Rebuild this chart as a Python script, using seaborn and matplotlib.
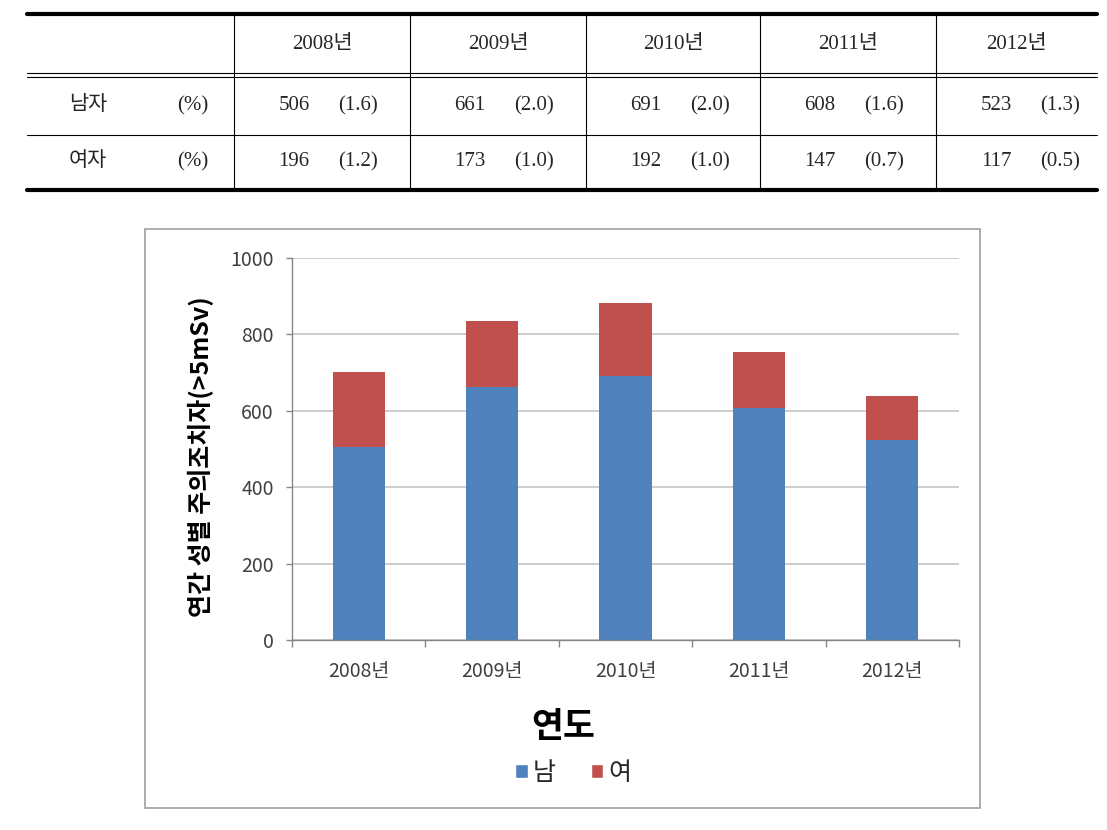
import matplotlib.pyplot as plt
import numpy as np
import pandas as pd
import seaborn as sns
from matplotlib.lines import Line2D
from matplotlib.patches import Patch, Rectangle

# data
years = ["2008년", "2009년", "2010년", "2011년", "2012년"]
male = [506, 661, 691, 608, 523]
female = [196, 173, 192, 147, 117]
male_pct = [1.6, 2.0, 2.0, 1.6, 1.3]
female_pct = [1.2, 1.0, 1.0, 0.7, 0.5]
row_labels = ["남자", "여자"]
legend_labels = ["남", "여"]
y_ticks = [0, 200, 400, 600, 800, 1000]

BLUE = "#4F81BD"
RED = "#C0504D"
GRAY = "#868686"
W, H = 1107, 830

sns.set_theme(style="white")
plt.rcParams["font.family"] = ["Noto Sans CJK KR", "DejaVu Sans"]
SERIF = ["Liberation Serif", "Noto Sans CJK KR"]
TSIZE = 15


def fx(x):
    return x / W


def fy(y):
    return 1 - y / H


fig = plt.figure(figsize=(W / 100, H / 100), dpi=100)

# ---- table on top ----
col_edges = [234, 410, 586, 760, 936, 1097]


def hline(y, lw, x0=27, x1=1097):
    fig.add_artist(Line2D([fx(x0), fx(x1)], [fy(y), fy(y)], color="black", lw=lw))


hline(14, 3.0)
hline(73.5, 0.8)
hline(77, 0.8)
hline(135, 0.8)
hline(190.5, 3.0)
for x in col_edges[:-1]:
    fig.add_artist(Line2D([fx(x), fx(x)], [fy(15), fy(189)], color="black", lw=0.8))

for i, yr in enumerate(years):
    fig.text(fx((col_edges[i] + col_edges[i + 1]) / 2), fy(45), yr,
             ha="center", va="center", family=SERIF, size=TSIZE)

for r, (label, vals, pcts) in enumerate(zip(row_labels, [male, female], [male_pct, female_pct])):
    y = [106, 162][r]
    fig.text(fx(88), fy(y), label, ha="center", va="center", family=SERIF, size=TSIZE)
    fig.text(fx(193), fy(y), "(%)", ha="center", va="center", family=SERIF, size=TSIZE)
    for i, (v, p) in enumerate(zip(vals, pcts)):
        fig.text(fx(col_edges[i] + 60), fy(y), str(v), ha="center", va="center",
                 family=SERIF, size=TSIZE)
        fig.text(fx(col_edges[i] + 124), fy(y), f"({p:.1f})", ha="center", va="center",
                 family=SERIF, size=TSIZE)

# ---- chart box ----
fig.add_artist(Rectangle((fx(145), fy(808)), fx(980) - fx(145), fy(229) - fy(808),
                         transform=fig.transFigure, fill=False, edgecolor="#a0a0a0", lw=1.2))

# ---- stacked bar chart ----
ax = fig.add_axes([fx(292), fy(640), fx(959) - fx(292), fy(258) - fy(640)])
df = pd.DataFrame({"year": years, "male": male, "female": female})
df["total"] = df["male"] + df["female"]

sns.barplot(data=df, x="year", y="total", color=RED, width=0.39, saturation=1,
            linewidth=0, ax=ax)
sns.barplot(data=df, x="year", y="male", color=BLUE, width=0.39, saturation=1,
            linewidth=0, ax=ax)

ax.set_xlim(-0.5, 4.5)
ax.set_ylim(0, 1000)
ax.set_yticks(y_ticks)
ax.grid(axis="y", color="#c0c0c0", lw=1.1)
ax.grid(axis="x", visible=False)
ax.set_axisbelow(True)
for s in ["top", "right"]:
    ax.spines[s].set_visible(False)
for s in ["left", "bottom"]:
    ax.spines[s].set_color(GRAY)
    ax.spines[s].set_linewidth(1.0)

ax.tick_params(axis="y", left=True, length=4, width=1, color=GRAY, direction="out",
               pad=9, labelsize=14, labelcolor="#404040")
ax.set_xticks(np.arange(-0.5, 5, 1), minor=True)
ax.tick_params(axis="x", which="major", bottom=False, length=0, pad=15,
               labelsize=14, labelcolor="#404040")
ax.tick_params(axis="x", which="minor", bottom=True, length=5, width=1, color=GRAY,
               direction="out")

ax.set_xlabel("")
ax.set_ylabel("연간 성별 주의조치자(>5mSv)", fontsize=18, fontweight="bold", color="black")
ax.yaxis.label.set_va("center")
ax.yaxis.set_label_coords((201 - 292) / 667, 0.48)

fig.text(fx(563), fy(727), "연도", ha="center", va="center", size=25,
         weight="bold", color="black")

handles = [Patch(facecolor=BLUE), Patch(facecolor=RED)]
fig.legend(handles, legend_labels, loc="center", bbox_to_anchor=(fx(573), fy(773)),
           ncol=2, frameon=False, fontsize=18, handlelength=0.5, handleheight=0.5,
           handletextpad=0.2, columnspacing=1.4)

fig.savefig("out.png", dpi=100)
